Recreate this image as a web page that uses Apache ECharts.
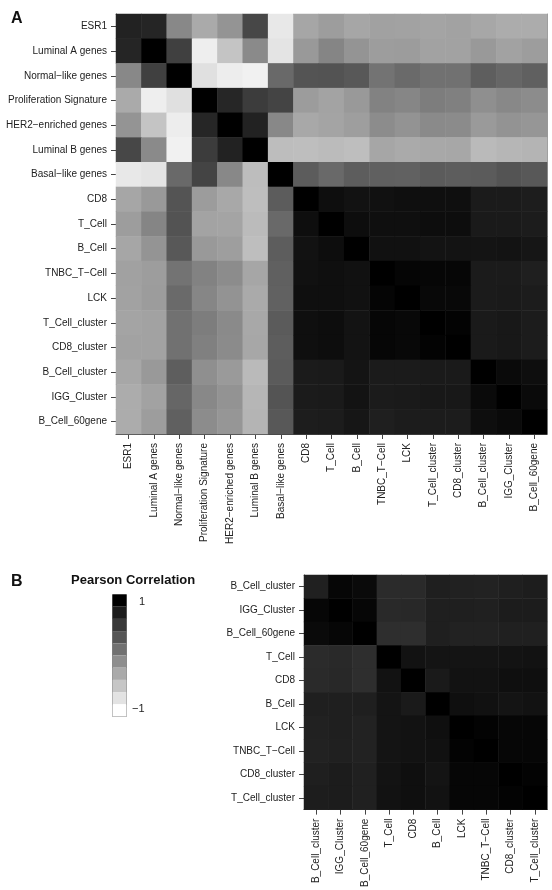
<!DOCTYPE html>
<html>
<head>
<meta charset="utf-8">
<script src="https://cdn.jsdelivr.net/npm/echarts@6/dist/echarts.min.js"></script>
<style>
  html, body { margin: 0; padding: 0; background: #fff; }
  #chart { width: 552px; height: 890px; }
</style>
</head>
<body>
<div id="chart"></div>
<script>
const FONT = 'Liberation Sans, Arial, sans-serif';
const TEXT_COLOR = '#222';
const AXIS_COLOR = '#444';

// Panel A labels (rows top to bottom, columns left to right)
const labelsA = ['ESR1', 'Luminal A genes', 'Normal−like genes', 'Proliferation Signature',
  'HER2−enriched genes', 'Luminal B genes', 'Basal−like genes', 'CD8', 'T_Cell', 'B_Cell',
  'TNBC_T−Cell', 'LCK', 'T_Cell_cluster', 'CD8_cluster', 'B_Cell_cluster', 'IGG_Cluster', 'B_Cell_60gene'];

// lower triangle of the Pearson correlation matrix, panel A
const lowerA = [
  [0.73],
  [0.71, 1.00],
  [-0.07, 0.50, 1.00],
  [-0.33, -0.87, -0.76, 1.00],
  [-0.16, -0.54, -0.86, 0.70, 1.00],
  [0.44, -0.08, -0.89, 0.53, 0.73, 1.00],
  [-0.82, -0.79, 0.18, 0.47, -0.07, -0.48, 1.00],
  [-0.30, -0.20, 0.34, -0.22, -0.32, -0.49, 0.28, 1.00],
  [-0.23, -0.04, 0.35, -0.28, -0.29, -0.47, 0.18, 0.89, 1.00],
  [-0.30, -0.16, 0.31, -0.20, -0.24, -0.49, 0.27, 0.86, 0.90, 1.00],
  [-0.26, -0.23, 0.10, -0.02, -0.10, -0.30, 0.25, 0.87, 0.88, 0.87, 1.00],
  [-0.27, -0.22, 0.17, -0.05, -0.15, -0.33, 0.24, 0.88, 0.88, 0.87, 0.96, 1.00],
  [-0.29, -0.27, 0.11, 0.02, -0.08, -0.32, 0.29, 0.88, 0.90, 0.85, 0.95, 0.94, 1.00],
  [-0.27, -0.27, 0.11, 0.00, -0.09, -0.31, 0.27, 0.88, 0.90, 0.85, 0.95, 0.94, 0.98, 1.00],
  [-0.31, -0.20, 0.26, -0.12, -0.21, -0.46, 0.29, 0.79, 0.80, 0.84, 0.79, 0.79, 0.80, 0.80, 1.00],
  [-0.35, -0.27, 0.20, -0.07, -0.15, -0.43, 0.34, 0.79, 0.80, 0.85, 0.79, 0.80, 0.81, 0.81, 0.92, 1.00],
  [-0.35, -0.23, 0.25, -0.10, -0.18, -0.41, 0.31, 0.77, 0.78, 0.83, 0.76, 0.78, 0.78, 0.78, 0.89, 0.92, 1.00]
];

// Panel B labels
const labelsB = ['B_Cell_cluster', 'IGG_Cluster', 'B_Cell_60gene', 'T_Cell', 'CD8', 'B_Cell',
  'LCK', 'TNBC_T−Cell', 'CD8_cluster', 'T_Cell_cluster'];

const lowerB = [
  [0.75],
  [0.95, 1.00],
  [0.92, 0.95, 1.00],
  [0.66, 0.68, 0.64, 1.00],
  [0.67, 0.69, 0.64, 0.86, 1.00],
  [0.76, 0.76, 0.76, 0.84, 0.80, 1.00],
  [0.74, 0.76, 0.73, 0.84, 0.86, 0.88, 1.00],
  [0.73, 0.75, 0.73, 0.84, 0.86, 0.87, 0.98, 1.00],
  [0.76, 0.78, 0.75, 0.85, 0.88, 0.84, 0.95, 0.95, 1.00],
  [0.77, 0.78, 0.75, 0.86, 0.88, 0.86, 0.95, 0.95, 0.98, 1.00]
];

const legendRange = [-1, 1];
const legendSteps = 10;

// mirror the triangle into [x, y, value] cells
function toCells(lower) {
  var cells = [];
  var n = lower.length;
  for (var i = 0; i < n; i++) {
    for (var j = 0; j < n; j++) {
      var v = j <= i ? lower[i][j] : lower[j][i];
      cells.push([j, i, v]);
    }
  }
  return cells;
}

function catAxis(data, gridIndex, isX) {
  return {
    type: 'category',
    data: data,
    gridIndex: gridIndex,
    position: isX ? 'bottom' : 'left',
    inverse: !isX,
    axisLine: { show: true, lineStyle: { color: AXIS_COLOR, width: 1 } },
    axisTick: { show: true, alignWithLabel: true, length: 5, lineStyle: { color: AXIS_COLOR } },
    axisLabel: {
      interval: 0,
      rotate: isX ? 90 : 0,
      fontSize: 10,
      fontFamily: FONT,
      color: TEXT_COLOR,
      margin: 9
    },
    splitLine: { show: false },
    splitArea: { show: false }
  };
}

// plain frame line on the opposite sides
function frameAxis(data, gridIndex, isX) {
  return {
    type: 'category',
    data: data,
    gridIndex: gridIndex,
    position: isX ? 'top' : 'right',
    inverse: !isX,
    axisLine: { show: true, lineStyle: { color: '#999', width: 1 } },
    axisTick: { show: false },
    axisLabel: { show: false },
    splitLine: { show: false }
  };
}

var chart = echarts.init(document.getElementById('chart'));

var option = {
  backgroundColor: '#fff',
  animation: false,
  grid: [
    { left: 116, top: 14, width: 431, height: 420 },
    { left: 304, top: 575, width: 243, height: 235 }
  ],
  xAxis: [
    catAxis(labelsA, 0, true),
    catAxis(labelsB, 1, true),
    frameAxis(labelsA, 0, true),
    frameAxis(labelsB, 1, true)
  ],
  yAxis: [
    catAxis(labelsA, 0, false),
    catAxis(labelsB, 1, false),
    frameAxis(labelsA, 0, false),
    frameAxis(labelsB, 1, false)
  ],
  visualMap: [
    {
      type: 'continuous',
      show: false,
      min: legendRange[0],
      max: legendRange[1],
      seriesIndex: [0, 1],
      inRange: { color: ['#ffffff', '#000000'] }
    },
    {
      type: 'piecewise',
      seriesIndex: [],
      min: legendRange[0],
      max: legendRange[1],
      splitNumber: legendSteps,
      orient: 'vertical',
      left: 112,
      top: 594,
      itemWidth: 14,
      itemHeight: 12.2,
      itemGap: 0,
      itemSymbol: 'rect',
      showLabel: false,
      selectedMode: false,
      padding: 0,
      borderColor: '#888',
      borderWidth: 1,
      inRange: { color: ['#ffffff', '#000000'] }
    }
  ],
  graphic: [
    { type: 'text', left: 11, top: 11, style: { text: 'A', font: 'bold 16px ' + FONT, fill: '#111' } },
    { type: 'text', left: 11, top: 574, style: { text: 'B', font: 'bold 16px ' + FONT, fill: '#111' } },
    { type: 'text', left: 71, top: 574, style: { text: 'Pearson Correlation', font: 'bold 13px ' + FONT, fill: '#111' } },
    { type: 'text', left: 139, top: 596, style: { text: '1', font: '11px ' + FONT, fill: TEXT_COLOR } },
    { type: 'text', left: 132, top: 703, style: { text: '−1', font: '11px ' + FONT, fill: TEXT_COLOR } }
  ],
  series: [
    {
      name: 'A',
      type: 'heatmap',
      xAxisIndex: 0,
      yAxisIndex: 0,
      data: toCells(lowerA),
      itemStyle: { borderWidth: 0 },
      emphasis: { disabled: true }
    },
    {
      name: 'B',
      type: 'heatmap',
      xAxisIndex: 1,
      yAxisIndex: 1,
      data: toCells(lowerB),
      itemStyle: { borderWidth: 0 },
      emphasis: { disabled: true }
    }
  ]
};

chart.setOption(option);
</script>
</body>
</html>
